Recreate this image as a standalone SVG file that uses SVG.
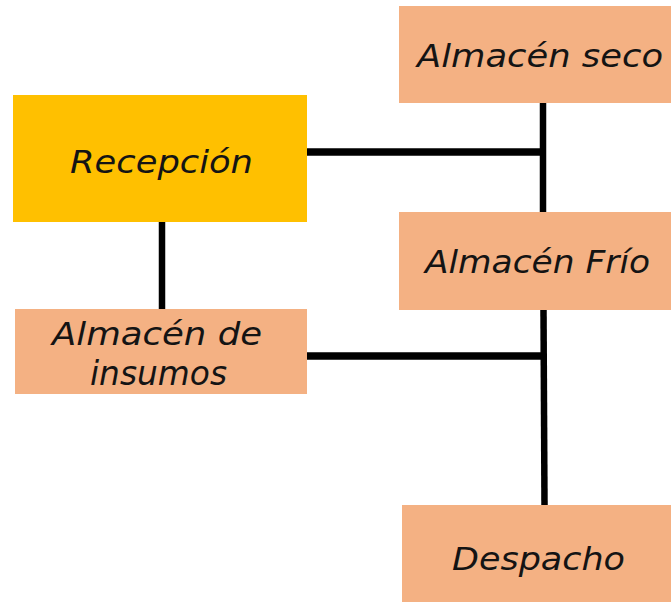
<svg xmlns="http://www.w3.org/2000/svg" width="671" height="602" viewBox="0 0 671 602">
<style>
.box{fill:#F4B183}
.yel{fill:#FFC000}
.t{font-family:"DejaVu Sans","Liberation Sans",sans-serif;font-style:italic;font-size:32px;fill:#141414}
.ln{stroke:#000;fill:none}
.h{stroke-width:7.5}
.v{stroke-width:6.5}
</style>
<rect width="671" height="602" fill="#fff"/>
<g id="connectors">
<line class="ln h" x1="307" y1="152" x2="543" y2="152"/>
<line class="ln v" x1="543" y1="103" x2="543" y2="213"/>
<line class="ln v" x1="162" y1="222" x2="162" y2="310"/>
<line class="ln h" x1="307" y1="356" x2="543" y2="356"/>
<line class="ln v" x1="543.5" y1="310" x2="544.5" y2="506"/>
</g>
<g id="almacen-seco">
<rect class="box" x="399" y="6" width="272" height="97"/>
<text class="t" x="417" y="66.7" textLength="246" lengthAdjust="spacingAndGlyphs">Almacén seco</text>
</g>
<g id="recepcion">
<rect class="yel" x="13" y="95" width="294" height="127"/>
<text class="t" x="70" y="173.3" textLength="183" lengthAdjust="spacingAndGlyphs">Recepción</text>
</g>
<g id="almacen-frio">
<rect class="box" x="399" y="212" width="272" height="98"/>
<text class="t" x="425" y="273.3" textLength="225" lengthAdjust="spacingAndGlyphs">Almacén Frío</text>
</g>
<g id="almacen-insumos">
<rect class="box" x="15" y="309" width="292" height="85"/>
<text class="t"><tspan x="52" y="345" textLength="210" lengthAdjust="spacingAndGlyphs">Almacén de</tspan><tspan x="90" y="385" font-size="34" textLength="137" lengthAdjust="spacingAndGlyphs">insumos</tspan></text>
</g>
<g id="despacho">
<rect class="box" x="402" y="505" width="269" height="97"/>
<text class="t" x="452" y="570" textLength="173" lengthAdjust="spacingAndGlyphs">Despacho</text>
</g>
</svg>
